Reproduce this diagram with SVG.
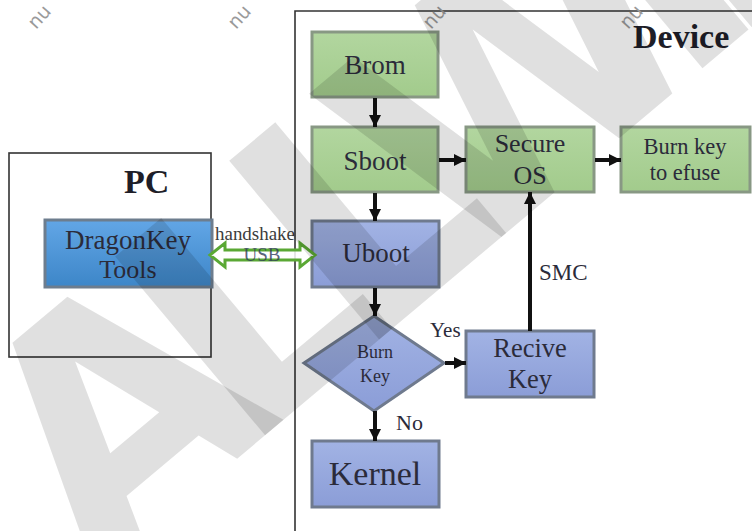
<svg xmlns="http://www.w3.org/2000/svg" width="752" height="531" viewBox="0 0 752 531">
  <defs>
    <linearGradient id="gGreen" x1="0" y1="0" x2="0" y2="1">
      <stop offset="0" stop-color="#b2d69f"/>
      <stop offset="1" stop-color="#a2cb8c"/>
    </linearGradient>
    <linearGradient id="gLav" x1="0" y1="0" x2="0" y2="1">
      <stop offset="0" stop-color="#a2b3e4"/>
      <stop offset="1" stop-color="#8b9dd7"/>
    </linearGradient>
    <linearGradient id="gBlue" x1="0" y1="0" x2="0" y2="1">
      <stop offset="0" stop-color="#62a6e6"/>
      <stop offset="1" stop-color="#3d86c8"/>
    </linearGradient>
    <marker id="head" viewBox="0 0 10 10" refX="10" refY="5" markerWidth="3" markerHeight="3" markerUnits="strokeWidth" orient="auto">
      <path d="M0,0 L10,5 L0,10 Z" fill="#111"/>
    </marker>
    <style>
      .frame { fill: none; stroke: #333; stroke-width: 1.6; }
      .green { fill: url(#gGreen); stroke: #889884; stroke-width: 3; }
      .lav { fill: url(#gLav); stroke: #6f7a8e; stroke-width: 3; }
      .blue { fill: url(#gBlue); stroke: #6d7d8e; stroke-width: 3; }
      .lbl { font-family: "Liberation Serif", "Times New Roman", serif; fill: #2b2b3a; text-anchor: middle; }
      .title { font-family: "Liberation Serif", "Times New Roman", serif; font-weight: bold; fill: #1e1e28; }
      .conn { stroke: #111; stroke-width: 4; fill: none; marker-end: url(#head); }
      .mark { font-family: "DejaVu Sans", sans-serif; fill: #9a9a9a; font-size: 19px; }
    </style>
  </defs>

  <rect width="752" height="531" fill="#ffffff"/>

  <!-- enclosing frames -->
  <g id="pc">
    <rect class="frame" x="9" y="153" width="202" height="204"/>
    <text class="title" x="124" y="193" font-size="34">PC</text>
  </g>
  <g id="device">
    <path class="frame" d="M295,531 L295,11 L752,11"/>
    <text class="title" x="633" y="48" font-size="34">Device</text>
  </g>

  <!-- nodes -->
  <g id="dragonkey">
    <rect class="blue" x="45" y="220" width="167" height="67"/>
    <text class="lbl" x="128" y="249" font-size="27">DragonKey</text>
    <text class="lbl" x="128" y="278" font-size="26">Tools</text>
  </g>
  <g id="brom">
    <rect class="green" x="312" y="32" width="126" height="65"/>
    <text class="lbl" x="375" y="74" font-size="27">Brom</text>
  </g>
  <g id="sboot">
    <rect class="green" x="312" y="127" width="126" height="65"/>
    <text class="lbl" x="375" y="170" font-size="27">Sboot</text>
  </g>
  <g id="secure-os">
    <rect class="green" x="466" y="127" width="128" height="65"/>
    <text class="lbl" x="530" y="152" font-size="26">Secure</text>
    <text class="lbl" x="530" y="184" font-size="26">OS</text>
  </g>
  <g id="burn-efuse">
    <rect class="green" x="621" y="127" width="129" height="65"/>
    <text class="lbl" x="685" y="154" font-size="22.5">Burn key</text>
    <text class="lbl" x="685" y="180" font-size="22.5">to efuse</text>
  </g>
  <g id="uboot">
    <rect class="lav" x="312" y="221" width="127" height="66"/>
    <text class="lbl" x="376" y="262" font-size="27">Uboot</text>
  </g>
  <g id="burn-decision">
    <polygon class="lav" points="374,316 444,363 374,411 304,363" stroke-width="2.5"/>
    <text class="lbl" x="375" y="358" font-size="18" fill="#404060">Burn</text>
    <text class="lbl" x="375" y="382" font-size="18" fill="#404060">Key</text>
  </g>
  <g id="recive-key">
    <rect class="lav" x="466" y="331" width="128" height="66"/>
    <text class="lbl" x="530" y="357" font-size="26.5">Recive</text>
    <text class="lbl" x="530" y="388" font-size="26.5">Key</text>
  </g>
  <g id="kernel">
    <rect class="lav" x="312" y="441" width="127" height="66"/>
    <text class="lbl" x="375" y="485" font-size="34">Kernel</text>
  </g>

  <!-- connectors -->
  <g id="connectors">
    <line class="conn" x1="375" y1="98" x2="375" y2="127"/>
    <line class="conn" x1="375" y1="193" x2="375" y2="221"/>
    <line class="conn" x1="375" y1="288" x2="375" y2="316"/>
    <line class="conn" x1="375" y1="411" x2="375" y2="441"/>
    <line class="conn" x1="439" y1="160" x2="466" y2="160"/>
    <line class="conn" x1="595" y1="160" x2="621" y2="160"/>
    <line class="conn" x1="445" y1="363" x2="466" y2="363"/>
    <line class="conn" x1="530" y1="331" x2="530" y2="192"/>
    <path d="M210,255 L225,243 L225,250 L300,250 L300,243 L315,255 L300,267 L300,260 L225,260 L225,267 Z" fill="#ffffff" fill-opacity="0.85" stroke="#5aa834" stroke-width="3" stroke-linejoin="miter"/>
    <text x="255" y="240" font-family="Liberation Serif, serif" font-size="18" fill="#3c3c3c" text-anchor="middle" textLength="80" lengthAdjust="spacingAndGlyphs">handshake</text>
    <text x="262" y="261" font-family="Liberation Serif, serif" font-size="19" fill="#2e3a5a" fill-opacity="0.8" text-anchor="middle">USB</text>
    <text x="430" y="337" font-family="Liberation Serif, serif" font-size="21" fill="#2b2b3a">Yes</text>
    <text x="396" y="430" font-family="Liberation Serif, serif" font-size="22" fill="#2b2b3a">No</text>
    <text x="539" y="280" font-family="Liberation Serif, serif" font-size="23" fill="#2b2b3a">SMC</text>
  </g>

  <!-- page watermark -->
  <g id="watermark">
    <text class="mark" transform="translate(36,30) rotate(-48)">nu</text>
    <text class="mark" transform="translate(236,30) rotate(-48)">nu</text>
    <text class="mark" transform="translate(431,30) rotate(-48)">nu</text>
    <text class="mark" transform="translate(628,30) rotate(-48)">nu</text>
    <text transform="translate(95,578) rotate(-40)" font-family="DejaVu Sans, sans-serif" font-weight="bold" font-size="320" letter-spacing="-55" fill="#000" fill-opacity="0.12">ALLWINNER</text>
  </g>
</svg>
